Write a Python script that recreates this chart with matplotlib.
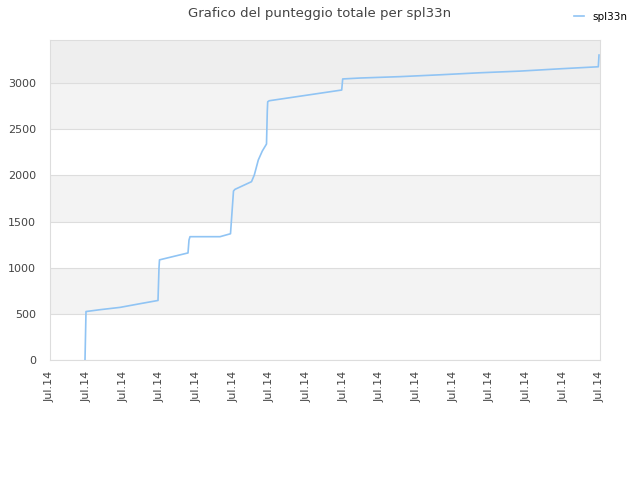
import matplotlib
matplotlib.use('Agg')
import matplotlib.pyplot as plt

# punti (x = posizione tra i tick, 0..15)
px = [85, 85.5, 86, 100, 120, 140, 158, 159, 159.5, 188, 189, 190, 220, 230.5,
      232, 233.5, 235, 251.5, 254.3, 258.3, 262.3, 266.5, 267.3, 267.7, 269.3,
      341.7, 342.7, 360, 400, 440, 480, 520, 560, 598.3, 599]
punti = [0, 260, 525, 545, 570, 610, 645, 1000, 1085, 1160, 1300, 1336, 1336, 1368,
         1600, 1831, 1849, 1932, 2004, 2167, 2264, 2340, 2700, 2798, 2809,
         2925, 3045, 3055, 3070, 3090, 3112, 3130, 3155, 3177, 3304]
giorni = [(p - 50) / (550 / 15) for p in px]
etichette = ['Jul.14'] * 16

fig = plt.figure(figsize=(6.4, 4.8), dpi=100)
ax = fig.add_axes([50/640, 120/480, 550/640, 320/480])

ymax = 3467
for lo, hi, c in [(500, 1000, '#f3f3f3'), (1500, 2000, '#f3f3f3'),
                  (2500, 3000, '#f3f3f3'), (3000, ymax, '#eeeeee')]:
    ax.axhspan(lo, hi, color=c, lw=0, zorder=0)

ax.plot(giorni, punti, color='#90c4f4', lw=1.2, label='spl33n', zorder=3)

ax.set_xlim(0, 15)
ax.set_ylim(0, ymax)
ax.set_yticks(range(0, 3001, 500))
ax.set_xticks(range(16))
ax.set_xticklabels(etichette, rotation=90, fontsize=8, color='#444444')
ax.tick_params(axis='y', labelsize=8, labelcolor='#444444', length=0, pad=10)
ax.tick_params(axis='x', length=0, pad=8)
ax.grid(axis='y', color='#dddddd', lw=0.8, zorder=1)
ax.set_axisbelow(True)
for s in ax.spines.values():
    s.set_color('#dddddd')

fig.suptitle('Grafico del punteggio totale per spl33n', fontsize=9.5,
             color='#444444', y=0.985)
fig.legend(loc='upper right', bbox_to_anchor=(0.995, 0.995), frameon=False,
           fontsize=7.5, handlelength=1.0)

fig.savefig('out.png', dpi=100)
